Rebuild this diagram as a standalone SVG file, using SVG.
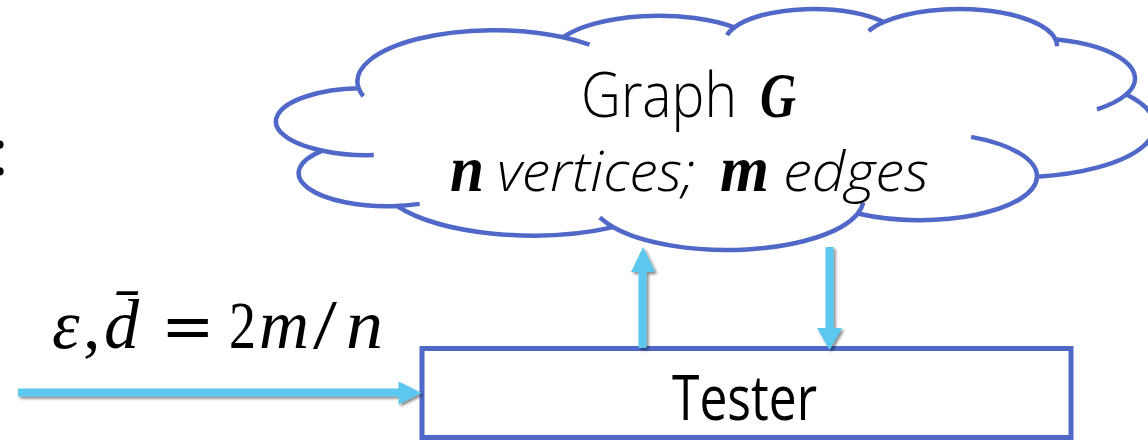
<svg xmlns="http://www.w3.org/2000/svg" width="1148" height="440" viewBox="0 0 1148 440">
  <defs>
    <style>
      .outline { fill: #ffffff; stroke: #5068C8; stroke-width: 4.5; stroke-linejoin: round; }
      .tail { fill: none; stroke: #5068C8; stroke-width: 4.5; stroke-linecap: butt; }
      .box { fill: #ffffff; stroke: #5068C8; stroke-width: 5; }
      .sans { font-family: "Open Sans", "Noto Sans", "Liberation Sans", sans-serif; fill: #000000; }
      .light { font-weight: 300; }
      .math { font-family: "Liberation Serif", "DejaVu Serif", serif; fill: #000000; }
      .mi { font-style: italic; }
      .mb { font-style: italic; font-weight: bold; }
      .arrow { fill: #5BC8EF; filter: url(#shadow); }
    </style>
    <filter id="shadow" x="-20%" y="-20%" width="140%" height="140%">
      <feDropShadow dx="2" dy="2" stdDeviation="1.6" flood-color="#000000" flood-opacity="0.5"/>
    </filter>
  </defs>

  <rect width="1148" height="440" fill="#ffffff"/>

  <!-- trailing colon of a caption that runs off the left edge -->
  <text class="sans" x="0" y="175" font-size="64" text-anchor="middle">:</text>

  <!-- cloud: 43200-unit preset outline, scaled into place -->
  <g id="graph">
    <g transform="translate(279.7 8.2) scale(0.020245 0.005577)">
      <path class="outline" vector-effect="non-scaling-stroke"
        d="M 3900 14370
           A 6753 9190 0 0 1 14005 5202
           A 5333 7267 0 0 1 22456 3432
           A 4365 5945 0 0 1 29833 2480
           A 4857 6595 0 0 1 38318 5575
           A 5333 7273 0 0 1 41819 15459
           A 6775 9220 0 0 1 37405 30202
           A 5785 7867 0 0 1 28556 36813
           A 6752 9215 0 0 1 16481 39263
           A 7720 10543 0 0 1 5805 35469
           A 4360 5918 0 0 1 2114 25548
           A 4345 5945 0 0 1 3900 14370 Z"/>
      <path class="tail" vector-effect="non-scaling-stroke"
        d="M 4647 26344 A 4345 5945 0 0 1 2114 25548
           M 6914 35088 A 4360 5918 0 0 1 5805 35469
           M 16481 39263 A 6752 9215 0 0 1 15813 37523
           M 28823 34903 A 6752 9215 0 0 1 28556 36813
           M 34153 23067 A 5785 7867 0 0 1 37405 30202
           M 41819 15459 A 5333 7273 0 0 1 40369 18136
           M 38318 5575 A 4857 6595 0 0 1 38395 6814
           M 29091 4094 A 4857 6595 0 0 1 29833 2480
           M 22097 4821 A 4365 5945 0 0 1 22456 3432
           M 14005 5202 A 6753 9190 0 0 1 15305 6550
           M 4126 15788 A 6753 9190 0 0 1 3900 14370"/>
    </g>
    <text class="sans light" x="581" y="117" font-size="62" textLength="156" lengthAdjust="spacingAndGlyphs">Graph</text>
    <text class="math mb" x="760" y="117" font-size="64" textLength="36" lengthAdjust="spacingAndGlyphs">G</text>
    <text class="math mb" x="450" y="191" font-size="66" textLength="34" lengthAdjust="spacingAndGlyphs">n</text>
    <text class="sans light" x="497" y="191" font-size="56" font-style="italic" textLength="198" lengthAdjust="spacingAndGlyphs">vertices;</text>
    <text class="math mb" x="720" y="191" font-size="66" textLength="49" lengthAdjust="spacingAndGlyphs">m</text>
    <text class="sans light" x="783" y="191" font-size="56" font-style="italic" textLength="146" lengthAdjust="spacingAndGlyphs">edges</text>
  </g>

  <g id="tester">
    <rect class="box" x="422" y="348.5" width="649" height="89"/>
    <text class="sans" x="672" y="420" font-size="62" textLength="145" lengthAdjust="spacingAndGlyphs">Tester</text>
  </g>

  <g id="params">
    <text class="math" y="348" font-size="70"><tspan class="mi" x="52">ε</tspan><tspan x="83">,</tspan><tspan class="mi" x="104">d̄</tspan><tspan x="161" font-family="DejaVu Serif, serif" font-size="64">=</tspan><tspan x="229" font-size="68" textLength="27" lengthAdjust="spacingAndGlyphs">2</tspan><tspan class="mi" x="259" textLength="50" lengthAdjust="spacingAndGlyphs">m</tspan><tspan x="313" textLength="24" lengthAdjust="spacingAndGlyphs">/</tspan><tspan class="mi" x="346" textLength="37" lengthAdjust="spacingAndGlyphs">n</tspan></text>
  </g>

  <g id="connectors">
    <!-- parameters into the tester -->
    <path class="arrow" d="M 18 388.5 L 398.5 388.5 L 398.5 381.5 L 421.5 393 L 398.5 404.5 L 398.5 396.5 L 18 396.5 Z"/>
    <!-- query up to the graph -->
    <path class="arrow" d="M 638.5 348 L 638.5 272 L 631 272 L 643 247 L 655 272 L 646.5 272 L 646.5 348 Z"/>
    <!-- answer back down to the tester -->
    <path class="arrow" d="M 825.5 247 L 833.5 247 L 833.5 328 L 842 328 L 829.5 350 L 817 328 L 825.5 328 Z"/>
  </g>
</svg>
